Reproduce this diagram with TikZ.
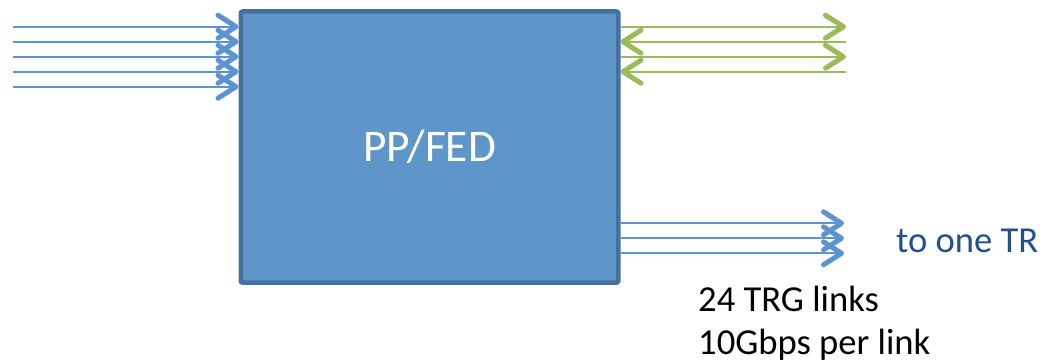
\documentclass[tikz,border=0pt]{standalone}
\usepackage{fontspec}
\setmainfont{Carlito}
\usetikzlibrary{arrows.meta}
\definecolor{boxfill}{HTML}{5F96C9}
\definecolor{boxline}{HTML}{44719E}
\definecolor{linkblue}{HTML}{5B94D0}
\definecolor{linkgreen}{HTML}{9BBB59}
\definecolor{txtblue}{HTML}{22508C}
\tikzset{
  barb/.style={-{Straight Barb[length=18pt,width=23pt,line width=5pt,round]}},
  bluelink/.style={barb, draw=linkblue, line width=2pt},
  greenlink/.style={barb, draw=linkgreen, line width=2pt},
  greenback/.style={{Straight Barb[length=18pt,width=23pt,line width=5pt,round]}-, draw=linkgreen, line width=2pt},
  mainbox/.style={draw=boxline, fill=boxfill, line width=4.5pt, rounded corners=2pt,
    minimum width=377.5pt, minimum height=271.25pt, inner sep=0pt},
  label/.style={inner sep=0pt, font=\fontsize{36.6}{44}\selectfont}
}
\begin{document}
\begin{tikzpicture}[x=1pt,y=-1pt]
\useasboundingbox (0,0) rectangle (1045,364);
\node[mainbox, text=white, font=\fontsize{45.3}{54}\selectfont] (box) at (429.5,147.1) {PP/FED};
% inputs on the left
\foreach \i/\yy in {1/26.7,2/41.7,3/56.7,4/71.7,5/86.7}{
  \coordinate (in\i) at (13,\yy);
  \draw[bluelink] (in\i) -- (in\i -| box.west);
}
% green links at top right
\coordinate (g1) at (846,26.7);
\coordinate (g2) at (846,41.7);
\coordinate (g3) at (846,56.7);
\coordinate (g4) at (846,71.7);
\draw[greenlink] (g1 -| box.east) -- (g1);
\draw[greenback] (g2 -| box.east) -- (g2);
\draw[greenlink] (g3 -| box.east) -- (g3);
\draw[greenback] (g4 -| box.east) -- (g4);
% TRG links at bottom right
\foreach \i/\yy in {1/223.3,2/238.3,3/253.3}{
  \coordinate (t\i) at (844,\yy);
  \draw[bluelink] (t\i -| box.east) -- (t\i);
}
\node[label, text=txtblue, anchor=base west] (tr) at (896,252.3) {to one TR};
\node[label, anchor=base west] (trgA) at (698,311.5) {24 TRG links};
\node[label, anchor=base west] (trgB) at (698,354.5) {10Gbps per link};
\end{tikzpicture}
\end{document}
